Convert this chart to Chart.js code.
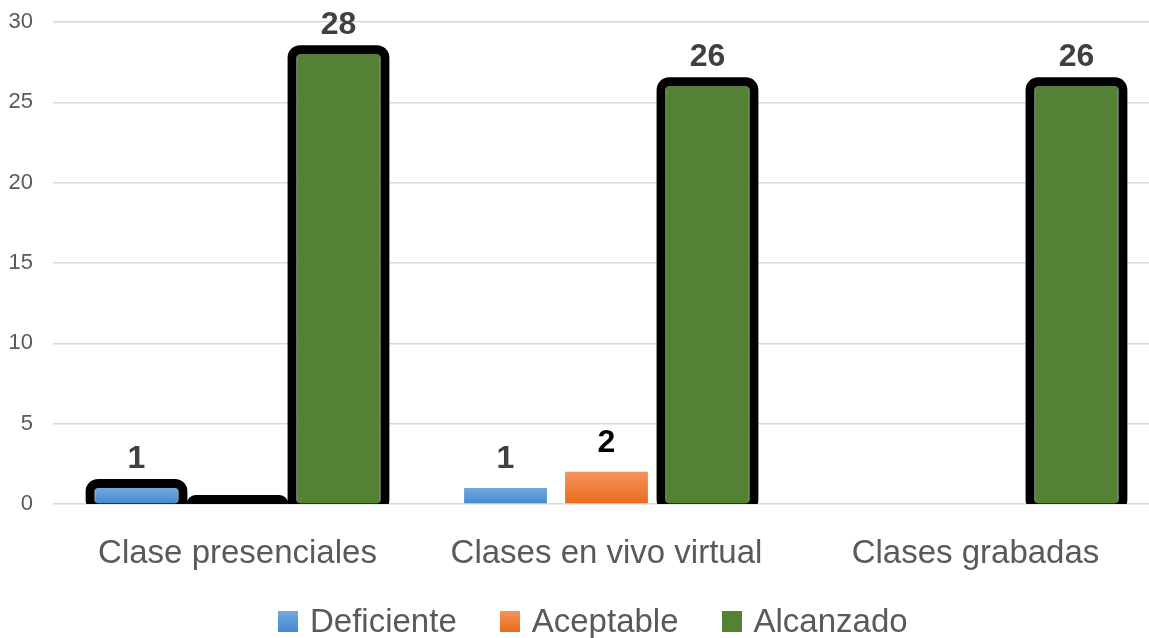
<!DOCTYPE html>
<html>
<head>
<meta charset="utf-8">
<script src="https://cdn.jsdelivr.net/npm/chart.js@4/dist/chart.umd.min.js"></script>
<style>
  html, body { margin: 0; padding: 0; background: #fff; overflow: hidden; }
  #wrap { position: relative; width: 1149px; height: 638px; overflow: hidden; }
  #legend { position: absolute; left: 278px; top: 602px; display: flex; align-items: center;
            font-family: "Liberation Sans", Arial, sans-serif; font-size: 33px; color: #595959; }
  .item { display: flex; align-items: center; margin-right: 43px; }
  .box { width: 20px; height: 21px; margin-right: 12px; }
</style>
</head>
<body>
<div id="wrap">
  <!-- plot area runs a little past the right edge, as in the original -->
  <canvas id="chart" width="1160" height="638"></canvas>
  <div id="legend"></div>
</div>
<script>
const categories = ['Clase presenciales', 'Clases en vivo virtual', 'Clases grabadas'];
const seriesNames = ['Deficiente', 'Aceptable', 'Alcanzado'];
const deficiente = [1, 1, 0];
const aceptable = [0, 2, 0];
const alcanzado = [28, 26, 26];
const yMin = 0, yMax = 30, yStep = 5;

// which bars get the thick black outline
const outlined = [
    [true, false, false],
    [true, false, false],
    [true, true, true]
];
const gradients = [
    ['#72a9de', '#4689cd'],
    ['#f4935c', '#e96c1b'],
    ['#548235', '#548235']
];
const labelColors = ['#404040', '#000000', '#404040'];

function barFill(idx) {
    return function(ctx) {
        const chart = ctx.chart;
        const y = chart.scales.y;
        if (!y || typeof ctx.raw !== 'number') return gradients[idx][1];
        const top = y.getPixelForValue(ctx.raw);
        const base = y.getPixelForValue(0);
        if (!Number.isFinite(top) || !Number.isFinite(base) || base - top < 1) return gradients[idx][1];
        const g = chart.ctx.createLinearGradient(0, top, 0, base);
        g.addColorStop(0, gradients[idx][0]);
        g.addColorStop(1, gradients[idx][1]);
        return g;
    };
}

const outlinePlugin = {
    id: 'outlineAndLabels',
    afterDatasetsDraw(chart) {
        const ctx = chart.ctx;
        const area = chart.chartArea;
        chart.data.datasets.forEach((ds, i) => {
            const meta = chart.getDatasetMeta(i);
            meta.data.forEach((bar, j) => {
                const p = bar.getProps(['x', 'y', 'base', 'width'], true);
                if (outlined[i][j]) {
                    ctx.save();
                    ctx.beginPath();
                    ctx.rect(area.left, area.top - 40, area.right - area.left, area.bottom - area.top + 40);
                    ctx.clip();
                    ctx.beginPath();
                    ctx.roundRect(p.x - p.width / 2 - 5, p.y - 4.5, p.width + 10, p.base - p.y + 9, 8);
                    ctx.lineWidth = 9;
                    ctx.strokeStyle = '#000';
                    ctx.stroke();
                    ctx.restore();
                }
                const v = ds.data[j];
                if (v > 0) {
                    ctx.save();
                    ctx.font = 'bold 32px "Liberation Sans", Arial, sans-serif';
                    ctx.fillStyle = labelColors[i];
                    ctx.textAlign = 'center';
                    ctx.textBaseline = 'alphabetic';
                    ctx.fillText(String(v), p.x, p.y - 20);
                    ctx.restore();
                }
            });
        });
    }
};

const values = [deficiente, aceptable, alcanzado];

new Chart(document.getElementById('chart'), {
    type: 'bar',
    data: {
        labels: categories,
        datasets: seriesNames.map((name, i) => ({
            label: name,
            data: values[i],
            backgroundColor: barFill(i),
            borderWidth: 0,
            categoryPercentage: 0.821,
            barPercentage: 0.82
        }))
    },
    options: {
        responsive: false,
        animation: false,
        layout: { padding: { top: 22, right: 0, bottom: 0, left: 0 } },
        plugins: {
            legend: { display: false },
            tooltip: { enabled: false }
        },
        scales: {
            x: {
                grid: { display: false, drawTicks: false },
                border: { display: false },
                ticks: {
                    padding: 30,
                    color: '#595959',
                    font: { family: '"Liberation Sans", Arial, sans-serif', size: 33 }
                },
                afterFit(scale) {
                    scale.height = 134;
                    scale.paddingLeft = 0;
                    scale.paddingRight = 0;
                }
            },
            y: {
                min: yMin,
                max: yMax,
                grid: { color: '#d9d9d9', lineWidth: 1.5, drawTicks: false },
                border: { display: false },
                ticks: {
                    stepSize: yStep,
                    padding: 20,
                    color: '#595959',
                    font: { family: '"Liberation Sans", Arial, sans-serif', size: 22 }
                },
                afterFit(scale) {
                    scale.width = 53;
                    scale.paddingTop = 0;
                    scale.paddingBottom = 0;
                }
            }
        }
    },
    plugins: [outlinePlugin]
});

const legend = document.getElementById('legend');
seriesNames.forEach((name, i) => {
    const item = document.createElement('div');
    item.className = 'item';
    item.innerHTML = `<span class="box" style="background: linear-gradient(${gradients[i][0]}, ${gradients[i][1]})"></span><span>${name}</span>`;
    legend.appendChild(item);
});
</script>
</body>
</html>
